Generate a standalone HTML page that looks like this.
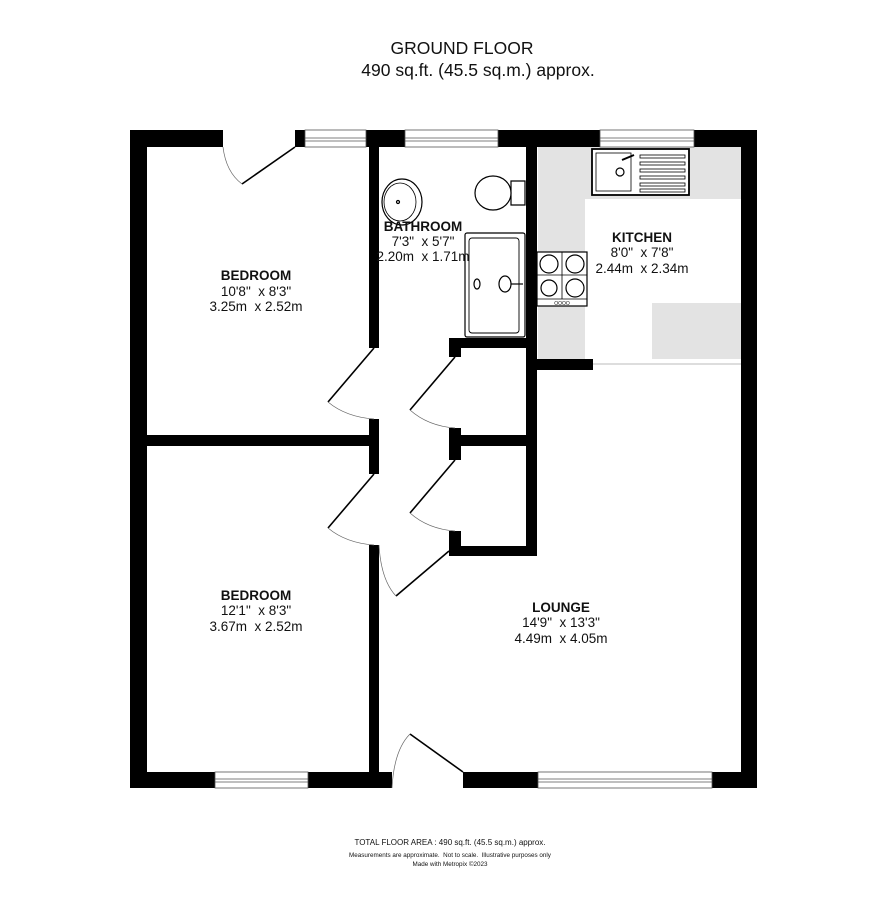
<!DOCTYPE html>
<html><head><meta charset="utf-8"><style>
html,body{margin:0;padding:0;background:#fff;}
svg{display:block;}
text{font-family:"Liberation Sans",Arial,sans-serif;fill:#111;white-space:pre;}
</style></head><body>
<svg width="886" height="919" viewBox="0 0 886 919" xmlns="http://www.w3.org/2000/svg">
<text x="462" y="54" font-size="17.5" text-anchor="middle">GROUND FLOOR</text>
<text x="478" y="76" font-size="17.5" text-anchor="middle">490 sq.ft. (45.5 sq.m.) approx.</text>

<g fill="#e3e3e3">
<rect x="538" y="147" width="204" height="52"/>
<rect x="538" y="147" width="47" height="212"/>
<rect x="652" y="303" width="90" height="56"/>
</g>
<line x1="593" y1="364" x2="742" y2="364" stroke="#bbb" stroke-width="1"/>

<g fill="#000">
<rect x="130" y="130" width="93" height="17"/>
<rect x="295" y="130" width="10" height="17"/>
<rect x="366" y="130" width="39" height="17"/>
<rect x="498" y="130" width="102" height="17"/>
<rect x="694" y="130" width="63" height="17"/>
<rect x="130" y="130" width="17" height="658"/>
<rect x="741" y="130" width="16" height="658"/>
<rect x="130" y="772" width="85" height="16"/>
<rect x="308" y="772" width="84" height="16"/>
<rect x="463" y="772" width="75" height="16"/>
<rect x="712" y="772" width="45" height="16"/>
<rect x="369" y="130" width="10" height="218"/>
<rect x="369" y="419" width="10" height="55"/>
<rect x="369" y="545" width="10" height="230"/>
<rect x="130" y="435" width="249" height="11"/>
<rect x="526" y="130" width="11" height="426"/>
<rect x="449" y="338" width="88" height="10"/>
<rect x="449" y="338" width="12" height="19"/>
<rect x="449" y="428" width="12" height="32"/>
<rect x="449" y="435" width="88" height="11"/>
<rect x="449" y="531" width="12" height="25"/>
<rect x="449" y="546" width="88" height="10"/>
<rect x="537" y="359" width="56" height="11"/>
</g>

<g fill="#fff" stroke="#555" stroke-width="0.8">
<rect x="305" y="130" width="61" height="17"/>
<rect x="405" y="130" width="93" height="17"/>
<rect x="600" y="130" width="94" height="17"/>
<rect x="215" y="772" width="93" height="16"/>
<rect x="538" y="772" width="174" height="16"/>
</g>
<g stroke="#555" stroke-width="0.8">
<line x1="305" y1="138" x2="366" y2="138"/><line x1="305" y1="141" x2="366" y2="141"/>
<line x1="405" y1="138" x2="498" y2="138"/><line x1="405" y1="141" x2="498" y2="141"/>
<line x1="600" y1="138" x2="694" y2="138"/><line x1="600" y1="141" x2="694" y2="141"/>
<line x1="215" y1="779" x2="308" y2="779"/><line x1="215" y1="782" x2="308" y2="782"/>
<line x1="538" y1="779" x2="712" y2="779"/><line x1="538" y1="782" x2="712" y2="782"/>
</g>

<g stroke="#000" stroke-width="1.6" fill="none">
<line x1="295" y1="147" x2="242" y2="184"/>
<line x1="374" y1="348" x2="328" y2="402"/>
<line x1="455" y1="357" x2="410" y2="410"/>
<line x1="374" y1="474" x2="328" y2="528"/>
<line x1="455" y1="460" x2="410" y2="513"/>
<line x1="449" y1="551" x2="396" y2="596"/>
<line x1="463" y1="772" x2="410" y2="734"/>
</g>
<g stroke="#666" stroke-width="0.7" fill="none">
<path d="M223 147 Q226 172 242 184"/>
<path d="M328 402 Q346 417 374 419"/>
<path d="M410 410 Q428 426 455 428"/>
<path d="M328 528 Q346 543 374 545"/>
<path d="M410 513 Q428 529 455 531"/>
<path d="M379 545 Q381 580 396 596"/>
<path d="M410 734 Q394 750 392 788"/>
</g>

<g stroke="#000" stroke-width="1.2" fill="#fff">
<ellipse cx="402" cy="202" rx="20" ry="23"/>
<ellipse cx="400" cy="202" rx="16" ry="19" stroke-width="0.8"/>
<circle cx="398" cy="202" r="1.5"/>
<path d="M511 181 L525 181 L525 205 L511 205 Z"/>
<ellipse cx="493" cy="193" rx="18" ry="17"/>
<rect x="465" y="233" width="60" height="104" rx="2"/>
<rect x="469" y="238" width="50" height="95" rx="3" stroke-width="0.9"/>
<ellipse cx="477" cy="284" rx="3" ry="5"/>
<ellipse cx="505" cy="284" rx="6" ry="8"/>
<line x1="511" y1="284" x2="523" y2="284"/>
<rect x="592" y="149" width="97" height="46" stroke-width="1.8"/>
<rect x="596" y="153" width="35" height="38" stroke-width="0.8"/>
<circle cx="620" cy="172" r="4"/>
<g stroke-width="0.8"><rect x="640" y="155" width="45" height="3"/><rect x="640" y="162" width="45" height="3"/><rect x="640" y="169" width="45" height="3"/><rect x="640" y="176" width="45" height="3"/><rect x="640" y="183" width="45" height="3"/><rect x="640" y="189" width="45" height="3"/></g>
<path d="M622 160 L634 155" stroke-width="2"/>
<rect x="537" y="252" width="50" height="54"/>
<line x1="537" y1="299" x2="587" y2="299" stroke-width="0.8"/>
<line x1="562" y1="252" x2="562" y2="299" stroke-width="0.8"/>
<line x1="537" y1="275" x2="587" y2="275" stroke-width="0.8"/>
<circle cx="549" cy="264" r="9"/><circle cx="575" cy="264" r="9"/>
<circle cx="549" cy="288" r="8"/><circle cx="575" cy="288" r="9"/>
</g>
<text x="562" y="305" font-size="5" text-anchor="middle">OOOO</text>

<g font-size="13.5" text-anchor="middle">
<text x="256" y="280" font-weight="bold">BEDROOM</text>
<text x="256" y="296">10'8"  x 8'3"</text>
<text x="256" y="311">3.25m  x 2.52m</text>
<text x="423" y="231" font-weight="bold">BATHROOM</text>
<text x="423" y="246">7'3"  x 5'7"</text>
<text x="423" y="261">2.20m  x 1.71m</text>
<text x="642" y="242" font-weight="bold">KITCHEN</text>
<text x="642" y="257">8'0"  x 7'8"</text>
<text x="642" y="273">2.44m  x 2.34m</text>
<text x="256" y="600" font-weight="bold">BEDROOM</text>
<text x="256" y="615">12'1"  x 8'3"</text>
<text x="256" y="631">3.67m  x 2.52m</text>
<text x="561" y="612" font-weight="bold">LOUNGE</text>
<text x="561" y="627">14'9"  x 13'3"</text>
<text x="561" y="643">4.49m  x 4.05m</text>
</g>

<text x="450" y="845" font-size="8" text-anchor="middle">TOTAL FLOOR AREA : 490 sq.ft. (45.5 sq.m.) approx.</text>
<text x="450" y="857" font-size="6.3" text-anchor="middle">Measurements are approximate.  Not to scale.  Illustrative purposes only</text>
<text x="450" y="866" font-size="6.3" text-anchor="middle">Made with Metropix ©2023</text>
</svg>
</body></html>
